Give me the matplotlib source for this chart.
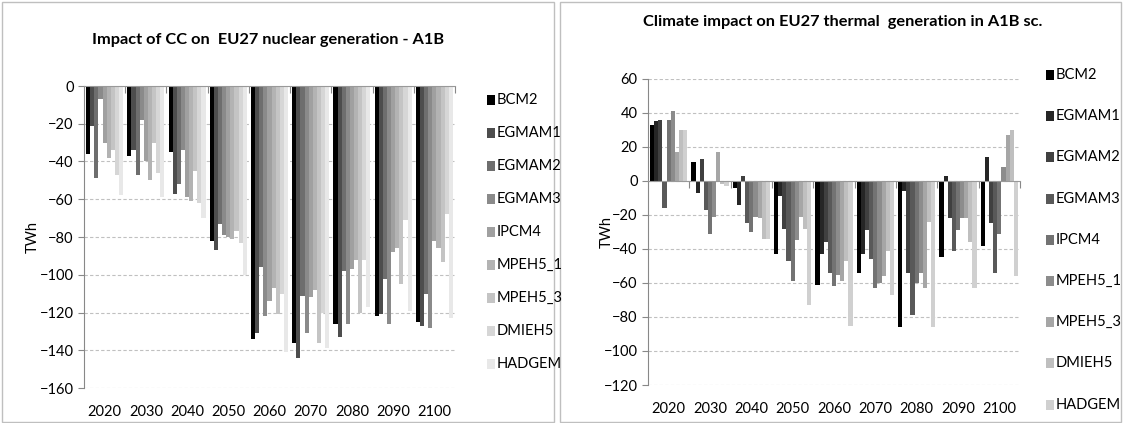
import numpy as np
import matplotlib
matplotlib.use("Agg")
import matplotlib.pyplot as plt
from matplotlib.patches import Rectangle

plt.rcParams['font.family'] = ['Lato', 'DejaVu Sans']

years = ['2020', '2030', '2040', '2050', '2060', '2070', '2080', '2090', '2100']
models = ['BCM2', 'EGMAM1', 'EGMAM2', 'EGMAM3', 'IPCM4', 'MPEH5_1', 'MPEH5_3', 'DMIEH5', 'HADGEM']

# nuclear generation impact (TWh), one list per model over the years
nuc_BCM2    = [-36, -37, -35, -82, -134, -136, -126, -122, -125]
nuc_EGMAM1  = [-21, -34, -57, -87, -131, -144, -133, -121, -127]
nuc_EGMAM2  = [-49, -47, -52, -73, -96, -111, -98, -102, -110]
nuc_EGMAM3  = [-7, -18, -34, -79, -122, -131, -126, -126, -128]
nuc_IPCM4   = [-30, -40, -59, -80, -114, -112, -97, -88, -82]
nuc_MPEH5_1 = [-38, -50, -61, -81, -107, -108, -92, -86, -86]
nuc_MPEH5_3 = [-34, -30, -45, -77, -121, -136, -120, -105, -93]
nuc_DMIEH5  = [-47, -46, -62, -83, -110, -120, -92, -71, -68]
nuc_HADGEM  = [-58, -59, -70, -100, -141, -139, -117, -119, -123]

# thermal generation impact (TWh)
th_BCM2    = [33, 11, -4, -43, -61, -54, -86, -45, -38]
th_EGMAM1  = [35, -7, -14, -9, -43, -43, -6, 3, 14]
th_EGMAM2  = [36, 13, 3, -28, -36, -29, -54, -22, -25]
th_EGMAM3  = [-16, -17, -25, -47, -54, -46, -79, -41, -54]
th_IPCM4   = [36, -31, -30, -59, -62, -63, -60, -29, -31]
th_MPEH5_1 = [41, -21, -21, -35, -55, -60, -54, -22, 8]
th_MPEH5_3 = [17, 17, -22, -21, -59, -56, -63, -22, 27]
th_DMIEH5  = [30, -2, -34, -28, -47, -41, -24, -36, 30]
th_HADGEM  = [30, -3, -34, -73, -85, -67, -86, -63, -56]

nuc = [nuc_BCM2, nuc_EGMAM1, nuc_EGMAM2, nuc_EGMAM3, nuc_IPCM4,
       nuc_MPEH5_1, nuc_MPEH5_3, nuc_DMIEH5, nuc_HADGEM]
th = [th_BCM2, th_EGMAM1, th_EGMAM2, th_EGMAM3, th_IPCM4,
      th_MPEH5_1, th_MPEH5_3, th_DMIEH5, th_HADGEM]

nuc_colors = ['#000000', '#4d4d4d', '#6e6e6e', '#8a8a8a', '#a0a0a0',
              '#b3b3b3', '#c4c4c4', '#d6d6d6', '#e8e8e8']
th_colors = ['#000000', '#262626', '#404040', '#595959', '#737373',
             '#8c8c8c', '#a6a6a6', '#bfbfbf', '#d0d0d0']

fig = plt.figure(figsize=(11.23, 4.23), dpi=100)
W, H = 1123, 423
FS = 10.5

# panel frames
for x0, x1 in [(2, 554), (560, 1121)]:
    fig.patches.append(Rectangle((x0 / W, 1 / H), (x1 - x0) / W, (H - 3) / H,
                                 transform=fig.transFigure, fill=False,
                                 edgecolor='#bfbfbf', linewidth=1))


def draw(rect, data, colors, ylim, title, title_xy, ylab_x, leg_x, leg_y0, leg_dy):
    ax = fig.add_axes(rect)
    x = np.arange(len(years))
    bw = 0.1
    for j, (vals, c) in enumerate(zip(data, colors)):
        ax.bar(x + (j - 4) * bw, vals, bw, color=c, linewidth=0)
    ax.set_xlim(-0.5, len(years) - 0.5)
    ax.set_ylim(*ylim)
    ax.set_yticks(np.arange(ylim[0], ylim[1] + 1, 20))
    ax.yaxis.grid(True, linestyle=(0, (3, 2)), color='#c0c0c0', linewidth=0.8)
    ax.set_axisbelow(True)
    for s in ['top', 'right']:
        ax.spines[s].set_visible(False)
    ax.spines['left'].set_color('#888888')
    ax.spines['bottom'].set_color('#999999')
    ax.spines['bottom'].set_position(('data', 0))
    ax.spines['bottom'].set_zorder(3)
    ax.set_xticks(x + 0.5)
    ax.set_xticklabels([])
    ax.tick_params(axis='x', direction='out', length=5, color='#888888')
    ax.tick_params(axis='y', length=4, color='#888888', labelsize=FS)
    for i, yr in enumerate(years):
        ax.text(i, -0.08, yr, transform=ax.get_xaxis_transform(),
                ha='center', va='center', fontsize=FS)
    fig.text(ylab_x / W, rect[1] + rect[3] / 2, 'TWh', rotation=90,
             ha='center', va='center', fontsize=FS)
    fig.text(title_xy[0] / W, 1 - title_xy[1] / H, title, ha='center',
             va='center', fontsize=11.8, fontweight='bold')
    for j, m in enumerate(models):
        yy = 1 - (leg_y0 + j * leg_dy) / H
        fig.patches.append(Rectangle((leg_x / W, yy - 5 / H), 8 / W, 10 / H,
                                     transform=fig.transFigure,
                                     facecolor=colors[j], edgecolor='none'))
        fig.text((leg_x + 10) / W, yy, m, ha='left', va='center', fontsize=FS)
    return ax


draw([84 / W, 1 - 388 / H, (455 - 84) / W, (388 - 86) / H], nuc, nuc_colors,
     (-160, 0), 'Impact of CC on  EU27 nuclear generation - A1B', (268, 40),
     33, 487, 100, 33)
draw([648 / W, 1 - 385 / H, (1020 - 648) / W, (385 - 79) / H], th, th_colors,
     (-120, 60), 'Climate impact on EU27 thermal  generation in A1B sc.', (843, 22),
     607, 1046, 75, 41.2)

fig.savefig('out.png', dpi=100)
